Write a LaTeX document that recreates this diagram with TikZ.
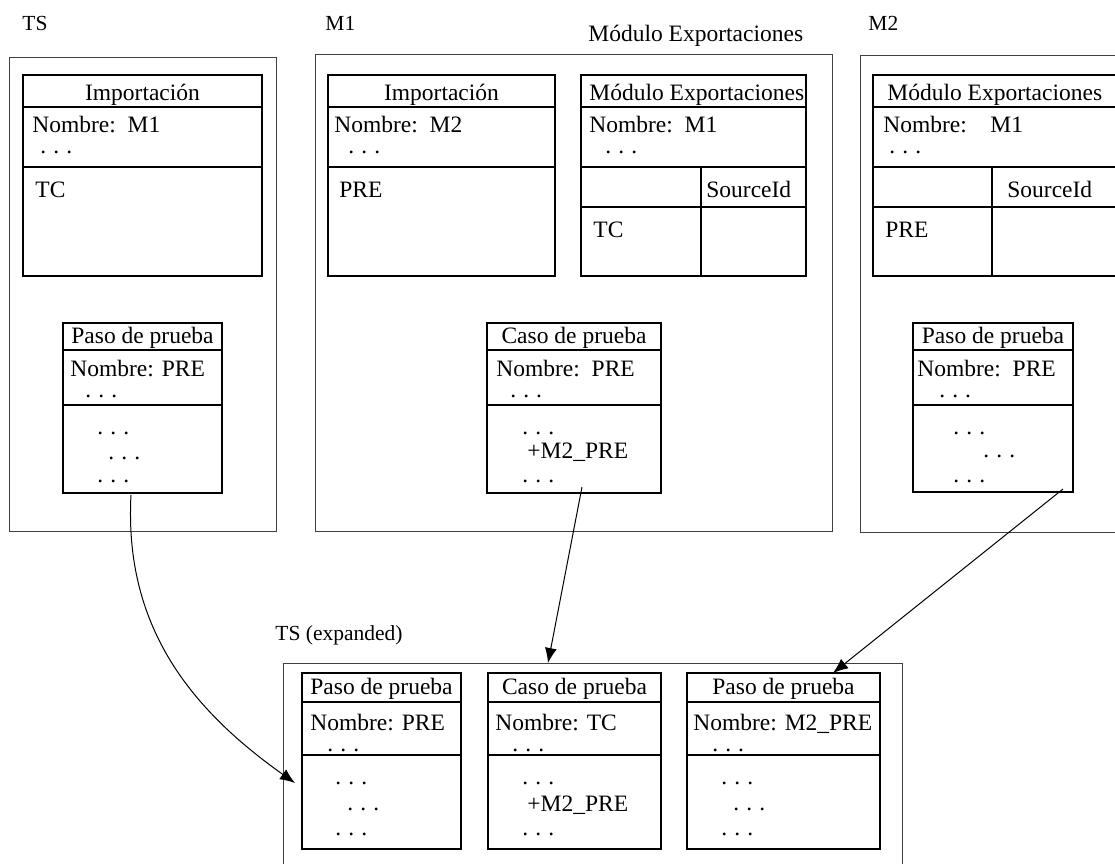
\documentclass[tikz,border=0pt]{standalone}
\usepackage{fontspec}
\setmainfont{Liberation Serif}
\usetikzlibrary{arrows.meta}

% tres puntos separados
\newcommand{\puntos}{.\hspace{0.3em}.\hspace{0.3em}.}
% clase: rectangulo con cabecera y zona de nombre
\newcommand{\clase}[6]{\draw[tabla] (#1,#2) rectangle (#3,#4) (#1,#5) -- (#3,#5) (#1,#6) -- (#3,#6);}

\begin{document}
\begin{tikzpicture}[%
    x=0.5pt, y=-0.5pt,
    >={Latex[length=7.5pt,width=6pt]},
    marco/.style={draw=black!75, line width=0.5pt},
    tabla/.style={draw, line width=1.1pt},
    txt/.style={anchor=base west, inner sep=0pt, font=\fontsize{11.75}{14}\selectfont},
    nombre/.style={anchor=north west, inner sep=0pt, align=left, font=\fontsize{11.75}{14}\selectfont},
    tit/.style={anchor=base, inner sep=0pt, font=\fontsize{11.75}{14}\selectfont},
    etiq/.style={anchor=base west, inner sep=0pt, font=\fontsize{10.75}{13}\selectfont},
    flecha/.style={->, line width=0.5pt}
    ]

    \useasboundingbox (0,0) rectangle (1115,864);

    % modulos
    \draw[marco] (9,57) rectangle (276,531);
    \draw[marco] (315,54) rectangle (832,531);
    \draw[marco] (1115,55) -- (860,55) -- (860,532) -- (1115,532);
    \draw[marco] (283,864) -- (283,663) -- (902,663) -- (902,864);

    \node[etiq] (ts) at (22,30) {TS};
    \node[etiq] (m1) at (325,30) {M1};
    \node[etiq] (m2) at (868,30) {M2};
    \node[txt] (m1exp) at (588,41) {Módulo Exportaciones};
    \node[etiq] (tsexp) at (275,640) {TS (expanded)};

    % TS: importacion
    \clase{23}{75}{262}{276}{107}{167}
    \node[tit] (tsImpT) at (142.5,100) {Importación};
    \node[txt] (tsImpN) at (32,132) {Nombre:\ \ M1};
    \node[txt] (tsImpP) at (40,153) {\puntos};
    \node[txt] (tsImpTC) at (35,197) {TC};

    % M1: importacion
    \clase{328}{75}{555}{276}{107}{167}
    \node[tit] (m1ImpT) at (441.5,100) {Importación};
    \node[txt] (m1ImpN) at (334,132) {Nombre:\ \ M2};
    \node[txt] (m1ImpP) at (348,153) {\puntos};
    \node[txt] (m1ImpPRE) at (339,197) {PRE};

    % M1: exportaciones
    \clase{581}{75}{806}{276}{107}{167}
    \draw[tabla] (581,207) -- (806,207) (701,167) -- (701,276);
    \node[txt] (m1ExpT) at (589,100) {Módulo Exportaciones};
    \node[txt] (m1ExpN) at (589,132) {Nombre:\ \ M1};
    \node[txt] (m1ExpP) at (605,153) {\puntos};
    \node[txt] (m1ExpS) at (706,197) {SourceId};
    \node[txt] (m1ExpTC) at (593,237) {TC};

    % M2: exportaciones
    \draw[tabla] (1115,75) -- (873,75) -- (873,276) -- (1115,276)
        (873,107) -- (1115,107) (873,167) -- (1115,167) (873,207) -- (1115,207)
        (992,167) -- (992,276);
    \node[txt] (m2ExpT) at (887,100) {Módulo Exportaciones};
    \node[txt] (m2ExpN) at (883,132) {Nombre:\quad M1};
    \node[txt] (m2ExpP) at (889,153) {\puntos};
    \node[txt] (m2ExpS) at (1007,197) {SourceId};
    \node[txt] (m2ExpPRE) at (885,237) {PRE};

    % pasos y casos de prueba
    \clase{63}{323}{222}{493}{350}{405}
    \node[tit] (tsPasoT) at (142.5,343) {Paso de prueba};
    \node[nombre] (tsPasoN) at (70,360) {Nombre: PRE\\[-3.5pt]\hspace*{7.5pt}\puntos};
    \node[txt] (tsPasoA) at (97,434) {\puntos};
    \node[txt] (tsPasoB) at (108,459) {\puntos};
    \node[txt] (tsPasoC) at (97,482) {\puntos};

    \clase{487}{323}{661}{493}{350}{405}
    \node[tit] (m1CasoT) at (574,343) {Caso de prueba};
    \node[nombre] (m1CasoN) at (496,360) {Nombre:\ \ PRE\\[-3.5pt]\hspace*{7pt}\puntos};
    \node[txt] (m1CasoA) at (522,434) {\puntos};
    \node[txt] (m1CasoB) at (527,458) {+M2\_PRE};
    \node[txt] (m1CasoC) at (522,482) {\puntos};

    \clase{913}{323}{1073}{492}{350}{405}
    \node[tit] (m2PasoT) at (993,343) {Paso de prueba};
    \node[nombre] (m2PasoN) at (917,360) {Nombre:\ \ PRE\\[-3.5pt]\hspace*{11pt}\puntos};
    \node[txt] (m2PasoA) at (953,434) {\puntos};
    \node[txt] (m2PasoB) at (983,457) {\puntos};
    \node[txt] (m2PasoC) at (953,482) {\puntos};

    % TS expandido
    \clase{302}{673}{461}{849}{702}{755}
    \node[tit] (ex1T) at (381.5,694) {Paso de prueba};
    \node[nombre] (ex1N) at (310,714) {Nombre: PRE\\[-3.5pt]\hspace*{8.5pt}\puntos};
    \node[txt] (ex1A) at (335,784) {\puntos};
    \node[txt] (ex1B) at (347,810) {\puntos};
    \node[txt] (ex1C) at (335,835) {\puntos};

    \clase{488}{673}{661}{849}{702}{755}
    \node[tit] (ex2T) at (574.5,694) {Caso de prueba};
    \node[nombre] (ex2N) at (495,714) {Nombre: TC\\[-3.5pt]\hspace*{8.5pt}\puntos};
    \node[txt] (ex2A) at (522,784) {\puntos};
    \node[txt] (ex2B) at (527,811) {+M2\_PRE};
    \node[txt] (ex2C) at (522,835) {\puntos};

    \clase{687}{673}{880}{849}{702}{755}
    \node[tit] (ex3T) at (783.5,694) {Paso de prueba};
    \node[nombre] (ex3N) at (693,714) {Nombre: M2\_PRE\\[-3.5pt]\hspace*{9.5pt}\puntos};
    \node[txt] (ex3A) at (721,784) {\puntos};
    \node[txt] (ex3B) at (733,810) {\puntos};
    \node[txt] (ex3C) at (721,835) {\puntos};

    % flechas
    \coordinate (pasoTS) at (131,495);
    \coordinate (pasoEx) at (295,783);
    \coordinate (casoM1) at (582,487);
    \coordinate (casoEx) at (548,663);
    \coordinate (pasoM2) at (1063,489);
    \coordinate (pasoM2Ex) at (833,673);

    \draw[flecha] (pasoTS) .. controls +(-7,130) and +(-106,-75) .. (pasoEx);
    \draw[flecha] (casoM1) -- (casoEx);
    \draw[flecha] (pasoM2) -- (pasoM2Ex);

\end{tikzpicture}
\end{document}
